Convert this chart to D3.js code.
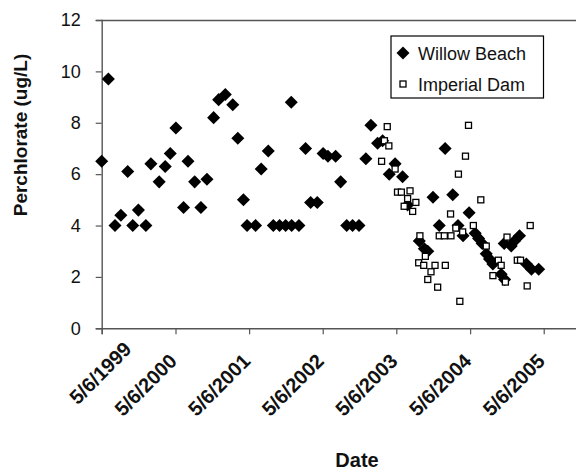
<!DOCTYPE html>
<html>
<head>
<meta charset="utf-8">
<script src="https://cdn.jsdelivr.net/npm/d3@7"></script>
<style>
  html, body { margin: 0; padding: 0; background: #fff; }
  svg { display: block; font-family: Arial, "Liberation Sans", sans-serif; }
</style>
</head>
<body>
<svg id="chart" width="576" height="470"></svg>
<script>
// Perchlorate sampling results, Lower Colorado River
const willowDates = [
  "1999-05-06","1999-06-08","1999-07-11","1999-08-09","1999-09-12","1999-10-07","1999-11-04","1999-12-11",
  "2000-01-05","2000-02-15","2000-03-16","2000-04-10","2000-05-08","2000-06-15","2000-07-07","2000-08-09",
  "2000-09-09","2000-10-09","2000-11-11","2000-12-06","2001-01-08","2001-02-14","2001-03-11","2001-04-08",
  "2001-04-26","2001-06-07","2001-07-05","2001-08-09","2001-09-03","2001-10-04","2001-11-03","2001-12-03",
  "2001-12-01","2002-01-08","2002-02-10","2002-03-07","2002-04-09","2002-05-08","2002-06-01","2002-07-09",
  "2002-08-03","2002-09-02","2002-10-01","2002-11-02","2002-12-06","2002-12-31","2003-02-02","2003-02-27",
  "2003-04-01","2003-04-30","2003-06-06","2003-07-01","2003-08-28","2003-09-22","2003-10-09","2003-11-04",
  "2003-12-05","2004-01-03","2004-02-10","2004-03-07","2004-04-01","2004-05-01","2004-05-31","2004-06-17",
  "2004-07-05","2004-07-25","2004-08-10","2004-08-27","2004-10-07","2004-10-24","2004-10-22","2004-11-26",
  "2004-12-12","2005-01-06","2005-02-09","2005-03-06","2005-04-11"
];
const willowValues = [
  6.5, 9.7, 4.0, 4.4, 6.1, 4.0, 4.6, 4.0,
  6.4, 5.7, 6.3, 6.8, 7.8, 4.7, 6.5, 5.7,
  4.7, 5.8, 8.2, 8.9, 9.1, 8.7, 7.4, 5.0,
  4.0, 4.0, 6.2, 6.9, 4.0, 4.0, 4.0, 4.0,
  8.8, 4.0, 7.0, 4.9, 4.9, 6.8, 6.7, 6.7,
  5.7, 4.0, 4.0, 4.0, 6.6, 7.9, 7.2, 7.3,
  6.0, 6.4, 5.9, 4.8, 3.4, 3.1, 3.0, 5.1,
  4.0, 7.0, 5.2, 4.0, 3.6, 4.5, 3.7, 3.5,
  3.3, 2.9, 2.7, 2.5, 2.1, 1.9, 3.3, 3.2,
  3.4, 3.6, 2.5, 2.3, 2.3
];

const imperialDates = [
  "2003-02-22","2003-03-08","2003-03-22","2003-03-30","2003-04-30","2003-05-12","2003-05-31","2003-06-14",
  "2003-07-01","2003-07-13","2003-07-26","2003-08-11","2003-08-25","2003-08-31","2003-09-19","2003-09-27",
  "2003-10-09","2003-10-25","2003-11-14","2003-11-27","2003-12-05","2003-12-30","2004-01-04","2004-01-30",
  "2004-02-01","2004-02-25","2004-03-09","2004-03-16","2004-03-30","2004-04-13","2004-04-28","2004-05-22",
  "2004-06-28","2004-07-25","2004-08-27","2004-09-23","2004-10-07","2004-10-28","2004-11-05","2004-12-26",
  "2005-01-11","2005-02-13","2005-02-28"
];
const imperialValues = [
  6.5, 7.3, 7.85, 7.1, 6.2, 5.3, 5.3, 4.75,
  5.05, 5.35, 4.55, 4.9, 2.55, 3.6, 2.45, 2.8,
  1.9, 2.2, 2.45, 1.6, 3.6, 3.6, 2.45, 4.45,
  3.6, 3.9, 6.0, 1.05, 3.75, 6.7, 7.9, 4.0,
  5.0, 3.2, 2.05, 2.65, 2.45, 1.8, 3.55, 2.65,
  2.65, 1.65, 4.0
];

const xTickLabels = ["5/6/1999","5/6/2000","5/6/2001","5/6/2002","5/6/2003","5/6/2004","5/6/2005"];
const yTickValues = [0, 2, 4, 6, 8, 10, 12];
const seriesNames = ["Willow Beach", "Imperial Dam"];

const parse = d3.timeParse("%Y-%m-%d");
const fmtIn = d3.timeParse("%m/%d/%Y");
const willow = willowDates.map((d, i) => ({ date: parse(d), value: willowValues[i] }));
const imperial = imperialDates.map((d, i) => ({ date: parse(d), value: imperialValues[i] }));
const tickDates = xTickLabels.map(s => fmtIn(s));

const svg = d3.select("#chart");
const plotLeft = 101.7, plotTop = 20, plotBottom = 328.3, plotRight = 578;

const x = d3.scaleTime()
  .domain([tickDates[0], d3.timeDay.offset(tickDates[0], 2362)])
  .range([plotLeft, plotRight]);
const y = d3.scaleLinear().domain([0, 12]).range([plotBottom, plotTop]);

const axisColor = "#555";
const fontStack = "Arial, 'Liberation Sans', sans-serif";

// plot frame top edge
svg.append("line")
  .attr("x1", plotLeft).attr("x2", plotRight).attr("y1", plotTop + 0.5).attr("y2", plotTop + 0.5)
  .attr("stroke", axisColor).attr("stroke-width", 1.4);

// y axis
const yAxis = svg.append("g")
  .attr("transform", `translate(${plotLeft},0)`)
  .call(d3.axisLeft(y).tickValues(yTickValues).tickSize(6).tickPadding(15).tickFormat(d3.format("d")));
yAxis.select(".domain").attr("stroke", axisColor).attr("stroke-width", 1.4);
yAxis.selectAll(".tick line").attr("stroke", axisColor).attr("stroke-width", 1.2);
yAxis.selectAll(".tick text")
  .attr("font-size", 18).attr("fill", "#111").attr("font-family", fontStack);

// x axis with slanted date labels
const xAxis = svg.append("g")
  .attr("transform", `translate(0,${plotBottom})`)
  .call(d3.axisBottom(x).tickValues(tickDates).tickSize(6).tickFormat((d, i) => xTickLabels[i]));
xAxis.select(".domain").attr("stroke", axisColor).attr("stroke-width", 1.4);
xAxis.selectAll(".tick line").attr("stroke", axisColor).attr("stroke-width", 1.2);
xAxis.selectAll(".tick text")
  .attr("font-size", 20).attr("font-weight", "bold").attr("fill", "#111")
  .attr("font-family", fontStack)
  .attr("text-anchor", "end")
  .attr("dy", null).attr("y", null)
  .attr("transform", (d, i) => i === 0
    ? "translate(30.5,22.2) rotate(-45)"
    : "translate(2,34) rotate(-45)");

// axis titles
svg.append("text")
  .attr("x", 357).attr("y", 467)
  .attr("text-anchor", "middle")
  .attr("font-size", 20).attr("font-weight", "bold").attr("fill", "#111")
  .text("Date");
svg.append("text")
  .attr("transform", "translate(27,135) rotate(-90)")
  .attr("text-anchor", "middle")
  .attr("font-size", 19).attr("font-weight", "bold").attr("fill", "#111")
  .text("Perchlorate (ug/L)");

// markers
const diamond = d3.symbol().type(d3.symbolSquare).size(85);
const g = svg.append("g");
g.selectAll("path.wb").data(willow).join("path")
  .attr("class", "wb")
  .attr("d", diamond)
  .attr("transform", d => `translate(${x(d.date)},${y(d.value)}) rotate(45)`)
  .attr("fill", "#000");
g.selectAll("rect.id").data(imperial).join("rect")
  .attr("class", "id")
  .attr("x", d => x(d.date) - 3).attr("y", d => y(d.value) - 3)
  .attr("width", 6).attr("height", 6)
  .attr("fill", "#fff").attr("stroke", "#000").attr("stroke-width", 1.3);

// legend
const lg = svg.append("g");
lg.append("rect")
  .attr("x", 391).attr("y", 36).attr("width", 152.5).attr("height", 62)
  .attr("fill", "#fff").attr("stroke", "#000").attr("stroke-width", 1.2);
lg.append("path").attr("d", diamond)
  .attr("transform", "translate(403,53) rotate(45)").attr("fill", "#000");
lg.append("rect").attr("x", 400).attr("y", 81).attr("width", 6).attr("height", 6)
  .attr("fill", "#fff").attr("stroke", "#000").attr("stroke-width", 1.3);
lg.selectAll("text.lbl").data(seriesNames).join("text")
  .attr("class", "lbl")
  .attr("x", 418).attr("y", (d, i) => 60 + i * 31)
  .attr("font-size", 18).attr("fill", "#111")
  .text(d => d);
</script>
</body>
</html>
